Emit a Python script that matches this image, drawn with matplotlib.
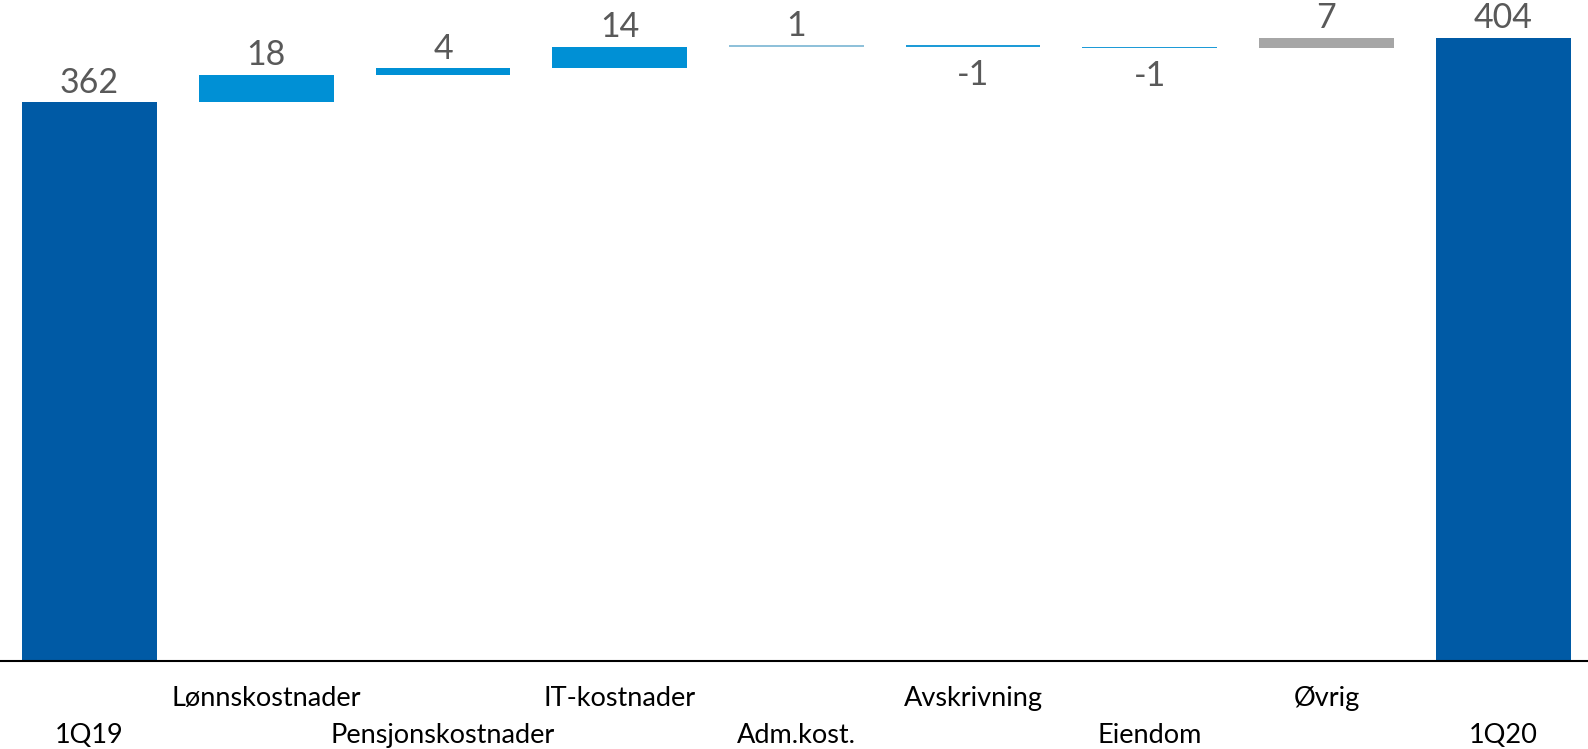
import matplotlib.pyplot as plt
import numpy as np

plt.rcParams['font.family'] = ['Lato', 'DejaVu Sans']

# data
categories = ['1Q19', 'Lønnskostnader', 'Pensjonskostnader', 'IT-kostnader', 'Adm.kost.',
              'Avskrivning', 'Eiendom', 'Øvrig', '1Q20']
values = [362, 18, 4, 14, 1, -1, -1, 7, 404]
is_total = [True, False, False, False, False, False, False, False, True]
colors = ['#005AA5', '#0090D5', '#0090D5', '#0090D5', '#8FC1DA',
          '#1E9BD7', '#1E9BD7', '#A6A6A6', '#005AA5']

# waterfall bottoms
bottoms = []
running = 0
for v, tot in zip(values, is_total):
    if tot:
        bottoms.append(0)
        running = v
    else:
        bottoms.append(running if v >= 0 else running + v)
        running += v
heights = [abs(v) for v in values]

fig = plt.figure(figsize=(15.88, 7.49), dpi=100)
ax = fig.add_axes([0, 87.6 / 749, 1, 661.4 / 749])

x = np.arange(len(categories))
ax.bar(x, heights, bottom=bottoms, width=0.762, color=colors)

# value labels
for i, (v, b, h) in enumerate(zip(values, bottoms, heights)):
    if v >= 0:
        ax.annotate(str(v), (i, b + h), xytext=(0, 6.8), textcoords='offset points',
                    ha='center', va='baseline', fontsize=24.5, color='#595959')
    else:
        ax.annotate(str(v), (i, b), xytext=(0, -27.4), textcoords='offset points',
                    ha='center', va='baseline', fontsize=24.5, color='#595959')

# category labels in two staggered rows
trans = ax.get_xaxis_transform()
for i, c in enumerate(categories):
    y = -0.0568 if i % 2 == 1 else -0.1117
    ax.text(i, y, c, transform=trans, ha='center', va='center', fontsize=19.5, color='black')

ax.set_xlim(-0.507, 8.48)
ax.set_ylim(0, 428.3)
ax.set_xticks([])
ax.set_yticks([])
for s in ['top', 'right', 'left']:
    ax.spines[s].set_visible(False)
ax.spines['bottom'].set_linewidth(1.5)
ax.spines['bottom'].set_color('black')

fig.savefig('out.png', dpi=100)
